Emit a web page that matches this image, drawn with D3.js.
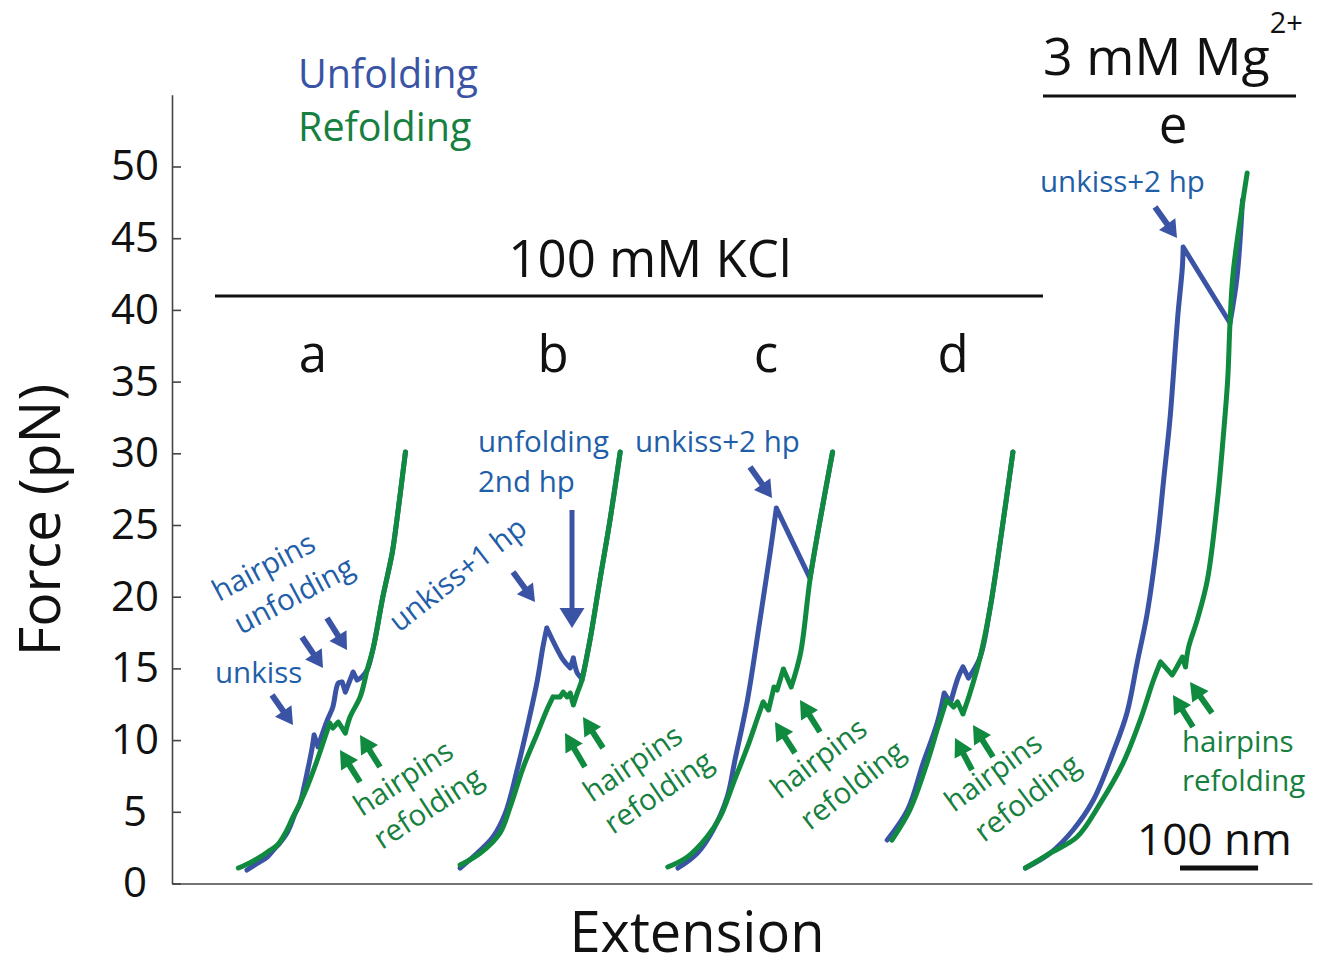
<!DOCTYPE html>
<html>
<head>
<meta charset="utf-8">
<script src="https://cdn.jsdelivr.net/npm/d3@7"></script>
<style>
  body { margin: 0; background: #fff; }
  svg text { font-family: "Open Sans", sans-serif; }
</style>
</head>
<body>
<div id="chart"></div>
<script>
// force-extension traces: [extension (nm, arbitrary origin), force (pN)]
const unfoldA = [[96,0.94],[109,1.40],[122,1.85],[131,2.40],[138,2.82],[146,3.40],[151,3.94],[157,4.80],[164,5.61],[169,6.70],[173,7.71],[179,9.31],[182,10.36],[187,9.52],[193,10.50],[199,11.40],[206,12.31],[213,13.98],[218,14.05],[222,13.35],[232,14.75],[237,14.19],[243,14.40],[250,14.89],[258,16.49],[270,19.98],[282,23.05],[288,25.35],[299,30.09]];
const refoldA = [[85,1.08],[100,1.45],[113,1.85],[125,2.30],[135,2.68],[146,3.60],[155,4.64],[164,5.61],[173,6.73],[186,8.61],[196,10.22],[202,11.19],[206,10.84],[213,11.26],[222,10.49],[228,11.61],[241,13.01],[250,14.89],[258,16.49],[270,19.98],[282,23.05],[288,25.35],[299,30.09]];

const unfoldB = [[369,1.08],[391,2.13],[411,3.24],[427,4.92],[442,7.92],[455,10.91],[468,14.19],[475,16.49],[480,17.82],[501,15.59],[510,15.03],[514,15.73],[519,14.68],[523,14.40],[525,14.19],[536,17.19],[548,21.16],[561,25.35],[574,30.09]];
const refoldB = [[369,1.29],[395,2.13],[420,3.52],[433,5.33],[450,8.12],[468,10.49],[480,12.10],[488,13.01],[497,13.01],[501,13.35],[506,13.01],[510,13.28],[514,12.45],[519,13.28],[525,14.19],[536,17.19],[548,21.16],[561,25.35],[574,30.09]];

const unfoldC = [[648,1.08],[673,2.13],[693,3.73],[711,6.03],[721,8.61],[737,12.80],[753,18.38],[766,23.05],[774,26.18],[817,21.30],[830,25.35],[846,30.09]];
const refoldC = [[635,1.15],[660,1.85],[685,3.24],[702,4.64],[719,7.01],[737,9.52],[749,11.40],[757,12.66],[764,12.10],[771,13.70],[775,13.49],[783,14.96],[793,13.70],[805,16.07],[817,21.16],[830,25.35],[846,30.09]];

const unfoldD = [[916,3.03],[942,5.13],[962,8.40],[980,11.19],[989,13.28],[997,12.59],[1007,14.40],[1013,15.10],[1020,14.33],[1035,15.79],[1048,19.28],[1061,23.95],[1077,30.09]];
const refoldD = [[922,3.03],[945,5.13],[967,8.40],[981,10.91],[992,12.80],[1001,12.31],[1006,12.66],[1013,11.82],[1022,13.28],[1035,15.79],[1048,19.28],[1061,23.95],[1077,30.09]];

const unfoldE = [[1093,1.08],[1125,2.13],[1154,3.73],[1180,5.82],[1205,9.10],[1223,11.89],[1236,15.38],[1249,18.86],[1262,23.95],[1270,28.14],[1278,32.32],[1282,35.11],[1288,39.50],[1294,42.99],[1295,44.38],[1355,39.09],[1364,42.29],[1371,47.66]];
const refoldE = [[1093,1.08],[1125,2.13],[1159,3.24],[1189,5.61],[1218,8.40],[1240,11.40],[1257,14.19],[1266,15.45],[1281,14.54],[1287,15.10],[1294,15.79],[1298,15.10],[1302,16.49],[1313,18.38],[1326,21.16],[1339,26.74],[1346,30.93],[1352,35.11],[1355,39.09],[1359,42.57],[1377,49.55]];

const unfolding = [unfoldA, unfoldB, unfoldC, unfoldD, unfoldE];
const refolding = [refoldA, refoldB, refoldC, refoldD, refoldE];

const yTicks = [0, 5, 10, 15, 20, 25, 30, 35, 40, 45, 50];
const panelLabels = ["a", "b", "c", "d", "e"];
const scaleBarNm = 100;

const BLUE = "#3a53a4", GREEN = "#0f8a3f", TXTBLUE = "#1f5ea8", TXTGREEN = "#168040";

const width = 1334, height = 968;
const svg = d3.select("#chart").append("svg")
    .attr("width", width)
    .attr("height", height);

const x = d3.scaleLinear().domain([0, 1460]).range([172, 1312]);
const y = d3.scaleLinear().domain([0, 55]).range([883.5, 94.8]);

// axes
const yAxis = svg.append("g")
    .attr("transform", `translate(${x(0)},0)`)
    .call(d3.axisLeft(y).tickValues(yTicks).tickSizeInner(-9).tickSizeOuter(0).tickPadding(0));
yAxis.select(".domain").attr("stroke", "#444").attr("stroke-width", 1.6);
yAxis.selectAll(".tick line").attr("stroke", "#444").attr("stroke-width", 1.6);
yAxis.selectAll(".tick text")
    .attr("x", -37)
    .attr("text-anchor", "middle")
    .attr("font-size", 42)
    .attr("font-family", "Open Sans")
    .attr("fill", "#111");

const xAxis = svg.append("g")
    .attr("transform", `translate(0,${y(0)})`)
    .call(d3.axisBottom(x).tickValues([]).tickSizeOuter(0));
xAxis.select(".domain").attr("stroke", "#444").attr("stroke-width", 1.6);

svg.append("text")
    .attr("transform", `translate(60,520) rotate(-90)`)
    .attr("text-anchor", "middle")
    .attr("font-size", 57)
    .attr("fill", "#111")
    .text("Force (pN)");

svg.append("text")
    .attr("x", 697).attr("y", 952)
    .attr("text-anchor", "middle")
    .attr("font-size", 56)
    .attr("fill", "#111")
    .text("Extension");

// traces: smooth within each rising / falling run, sharp at the rips
const line = d3.line()
    .x(d => x(d[0]))
    .y(d => y(d[1]))
    .curve(d3.curveCatmullRom.alpha(0.5));

function runs(pts) {
    const out = [];
    let cur = [pts[0]];
    for (let i = 1; i < pts.length; i++) {
        cur.push(pts[i]);
        if (i < pts.length - 1) {
            const a = Math.sign(pts[i][1] - pts[i - 1][1]);
            const b = Math.sign(pts[i + 1][1] - pts[i][1]);
            if (a !== b) { out.push(cur); cur = [pts[i]]; }
        }
    }
    out.push(cur);
    return out;
}
const tracePath = pts => runs(pts).map(r => line(r)).join("");

svg.selectAll("path.unfold")
    .data(unfolding)
    .enter().append("path")
    .attr("class", "unfold")
    .attr("d", tracePath)
    .attr("fill", "none")
    .attr("stroke", BLUE)
    .attr("stroke-width", 5)
    .attr("stroke-linejoin", "round")
    .attr("stroke-linecap", "round");

svg.selectAll("path.refold")
    .data(refolding)
    .enter().append("path")
    .attr("class", "refold")
    .attr("d", tracePath)
    .attr("fill", "none")
    .attr("stroke", GREEN)
    .attr("stroke-width", 5)
    .attr("stroke-linejoin", "round")
    .attr("stroke-linecap", "round");

// headings
svg.append("text").attr("x", 298).attr("y", 88).attr("font-size", 39.5).attr("fill", BLUE).text("Unfolding");
svg.append("text").attr("x", 298).attr("y", 141).attr("font-size", 39.5).attr("fill", TXTGREEN).text("Refolding");

svg.append("text").attr("x", 650).attr("y", 277).attr("text-anchor", "middle")
    .attr("font-size", 51).attr("fill", "#111").text("100 mM KCl");
svg.append("line").attr("x1", 215).attr("x2", 1043).attr("y1", 296).attr("y2", 296)
    .attr("stroke", "#111").attr("stroke-width", 3);

const mg = svg.append("text").attr("x", 1043).attr("y", 75).attr("font-size", 52).attr("fill", "#111");
mg.append("tspan").text("3 mM Mg");
mg.append("tspan").attr("dx", 0).attr("dy", -42).attr("font-size", 29).text("2+");
svg.append("line").attr("x1", 1043).attr("x2", 1296).attr("y1", 96).attr("y2", 96)
    .attr("stroke", "#111").attr("stroke-width", 3);

const labelX = [313, 553, 766, 953, 1173];
const labelY = [372, 372, 372, 372, 143];
svg.selectAll("text.panel")
    .data(panelLabels)
    .enter().append("text")
    .attr("class", "panel")
    .attr("x", (d, i) => labelX[i])
    .attr("y", (d, i) => labelY[i])
    .attr("text-anchor", "middle")
    .attr("font-size", 51)
    .attr("fill", "#111")
    .text(d => d);

// annotations
const notes = [
    { t: "hairpins", x: 219, y: 602, a: -28, c: TXTBLUE },
    { t: "unfolding", x: 241, y: 635, a: -28, c: TXTBLUE },
    { t: "unkiss", x: 215, y: 683, a: 0, c: TXTBLUE },
    { t: "unkiss+1 hp", x: 399, y: 633, a: -38, c: TXTBLUE },
    { t: "unfolding", x: 478, y: 452, a: 0, c: TXTBLUE },
    { t: "2nd hp", x: 478, y: 492, a: 0, c: TXTBLUE },
    { t: "unkiss+2 hp", x: 635, y: 452, a: 0, c: TXTBLUE },
    { t: "unkiss+2 hp", x: 1040, y: 192, a: 0, c: TXTBLUE },
    { t: "hairpins", x: 362, y: 817, a: -33, c: TXTGREEN },
    { t: "refolding", x: 382, y: 850, a: -33, c: TXTGREEN },
    { t: "hairpins", x: 592, y: 803, a: -34, c: TXTGREEN },
    { t: "refolding", x: 613, y: 835, a: -34, c: TXTGREEN },
    { t: "hairpins", x: 780, y: 800, a: -37, c: TXTGREEN },
    { t: "refolding", x: 810, y: 831, a: -38, c: TXTGREEN },
    { t: "hairpins", x: 954, y: 813, a: -36, c: TXTGREEN },
    { t: "refolding", x: 984, y: 843, a: -37, c: TXTGREEN },
    { t: "hairpins", x: 1182, y: 752, a: 0, c: TXTGREEN },
    { t: "refolding", x: 1182, y: 791, a: 0, c: TXTGREEN }
];
svg.selectAll("text.note")
    .data(notes)
    .enter().append("text")
    .attr("class", "note")
    .attr("transform", d => `translate(${d.x},${d.y}) rotate(${d.a})`)
    .attr("font-size", 29.5)
    .attr("fill", d => d.c)
    .text(d => d.t);

// arrows: tail -> tip
const arrows = [
    { x1: 272, y1: 695, x2: 293, y2: 725, c: BLUE, w: 6, hl: 17, hw: 20 },
    { x1: 302, y1: 637, x2: 323, y2: 668, c: BLUE, w: 6, hl: 17, hw: 20 },
    { x1: 327, y1: 618, x2: 347, y2: 650, c: BLUE, w: 6, hl: 17, hw: 20 },
    { x1: 513, y1: 572, x2: 535, y2: 602, c: BLUE, w: 6, hl: 17, hw: 20 },
    { x1: 572, y1: 510, x2: 572, y2: 628, c: BLUE, w: 5, hl: 20, hw: 25 },
    { x1: 750, y1: 467, x2: 772, y2: 498, c: BLUE, w: 6, hl: 17, hw: 20 },
    { x1: 1155, y1: 207, x2: 1177, y2: 238, c: BLUE, w: 6, hl: 17, hw: 20 },
    { x1: 360, y1: 782, x2: 340, y2: 750, c: GREEN, w: 6, hl: 18, hw: 20 },
    { x1: 380, y1: 767, x2: 360, y2: 735, c: GREEN, w: 6, hl: 18, hw: 20 },
    { x1: 585, y1: 767, x2: 565, y2: 733, c: GREEN, w: 6, hl: 18, hw: 20 },
    { x1: 603, y1: 748, x2: 583, y2: 717, c: GREEN, w: 6, hl: 18, hw: 20 },
    { x1: 795, y1: 753, x2: 775, y2: 722, c: GREEN, w: 6, hl: 18, hw: 20 },
    { x1: 820, y1: 732, x2: 800, y2: 700, c: GREEN, w: 6, hl: 18, hw: 20 },
    { x1: 972, y1: 770, x2: 955, y2: 738, c: GREEN, w: 6, hl: 18, hw: 20 },
    { x1: 993, y1: 757, x2: 973, y2: 725, c: GREEN, w: 6, hl: 18, hw: 20 },
    { x1: 1193, y1: 727, x2: 1173, y2: 695, c: GREEN, w: 6, hl: 18, hw: 20 },
    { x1: 1212, y1: 713, x2: 1190, y2: 682, c: GREEN, w: 6, hl: 18, hw: 20 }
];
arrows.forEach(a => {
    const dx = a.x2 - a.x1, dy = a.y2 - a.y1;
    const len = Math.hypot(dx, dy);
    const ux = dx / len, uy = dy / len;
    const bx = a.x2 - ux * a.hl, by = a.y2 - uy * a.hl;
    svg.append("line")
        .attr("x1", a.x1).attr("y1", a.y1)
        .attr("x2", bx + ux * 2).attr("y2", by + uy * 2)
        .attr("stroke", a.c).attr("stroke-width", a.w);
    const px = -uy * a.hw / 2, py = ux * a.hw / 2;
    svg.append("path")
        .attr("d", `M${a.x2},${a.y2} L${bx + px},${by + py} L${bx - px},${by - py} Z`)
        .attr("fill", a.c);
});

// 100 nm scale bar
const barX = 1180;
svg.append("line")
    .attr("x1", barX).attr("x2", barX + x(scaleBarNm) - x(0))
    .attr("y1", 868).attr("y2", 868)
    .attr("stroke", "#111").attr("stroke-width", 5);
svg.append("text").attr("x", 1137).attr("y", 855).attr("font-size", 44).attr("fill", "#111").text("100 nm");
</script>
</body>
</html>
